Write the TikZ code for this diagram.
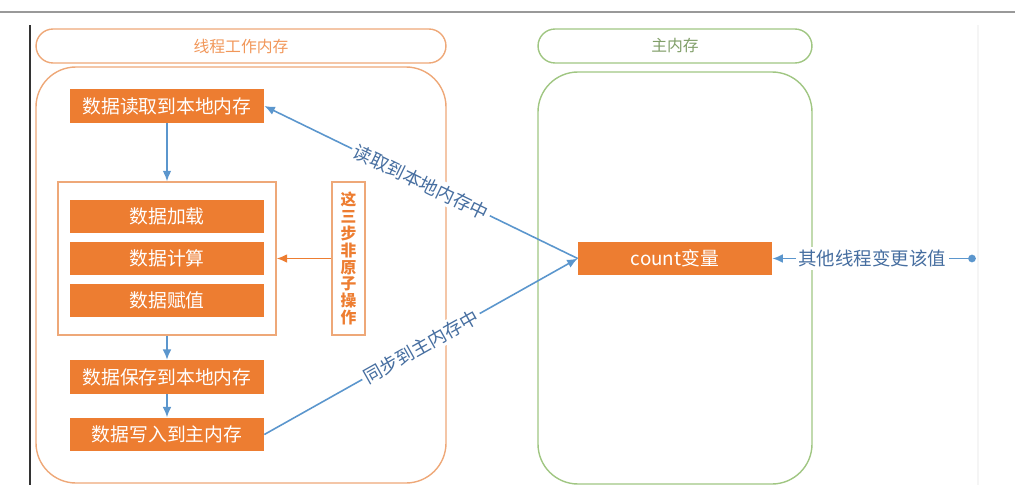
\documentclass[tikz,border=0pt]{standalone}
\usepackage{fontspec}
\setmainfont{Noto Sans CJK SC}
\usepackage{tikz}
\usetikzlibrary{arrows.meta}
\definecolor{figorange}{RGB}{237,125,49}
\definecolor{figpale}{RGB}{238,168,120}
\definecolor{figgreen}{RGB}{160,198,130}
\definecolor{figblue}{RGB}{91,150,205}
\definecolor{figtext}{RGB}{70,110,160}
\tikzset{
  box/.style  ={fill=figorange, text=white, font=\fontsize{10.7}{12}\selectfont, inner sep=0pt, minimum width=3.88cm, minimum height=0.67cm},
  grp/.style  ={draw=figpale, line width=0.8pt},
  grn/.style  ={draw=figgreen, line width=0.8pt},
  pill/.style ={rounded corners=0.34cm, minimum height=0.68cm, inner sep=0pt, font=\fontsize{9}{10}\selectfont},
  lab/.style  ={font=\fontsize{10.5}{12}\selectfont, text=figtext, fill=white, inner sep=1.5pt},
  ptr/.style  ={draw=figblue, line width=0.9pt, -{Latex[length=6pt,width=5pt]}},
  optr/.style ={draw=figorange, line width=0.8pt, -{Latex[length=6pt,width=5pt]}},
}
\begin{document}
\begin{tikzpicture}[x=0.02cm, y=-0.02cm]
  \useasboundingbox (0,0) rectangle (1015,497);
  \draw[black!40, line width=0.8pt] (0,12) -- (1015,12);
  \draw[black!80, line width=1pt] (30,25) -- (30,485);
  \draw[black!4, line width=0.6pt] (978,25) -- (978,485);

  \node[pill, grp, minimum width=8.2cm, text=figorange!80!white] (thead) at (241,46) {线程工作内存};
  \draw[grp, rounded corners=0.8cm] (36,67) rectangle (446,483);
  \node[pill, grn, minimum width=5.48cm, text=figgreen!80!black] (mhead) at (675,46) {主内存};
  \draw[grn, rounded corners=0.8cm] (538,72) rectangle (812,484);

  \node[box] (read) at (167,106) {数据读取到本地内存};
  \node[grp, minimum width=4.36cm, minimum height=3.06cm] (grp) at (167,258.5) {};
  \node[box] (load) at (167,216.5) {数据加载};
  \node[box] (calc) at (167,258.5) {数据计算};
  \node[box] (assign) at (167,300.5) {数据赋值};
  \node[grp, minimum width=0.66cm, minimum height=3.06cm, inner sep=0pt, align=center, text=figorange,
        font=\fontsize{9}{9.6}\selectfont\bfseries] (note) at (348.5,258.5) {这\\三\\步\\非\\原\\子\\操\\作};
  \node[box] (save) at (167,377) {数据保存到本地内存};
  \node[box] (write) at (167,434.5) {数据写入到主内存};
  \node[box] (count) at (675,258.5) {count变量};
  \coordinate (src) at (972,258.5);

  \draw[ptr] (read) -- (grp);
  \draw[ptr] (grp) -- (save);
  \draw[ptr] (save) -- (write);
  \draw[optr] (note) -- (grp);
  \draw[ptr] (count.west) -- node[lab, sloped] {读取到本地内存中} (read.east);
  \draw[ptr] (write.east) -- node[lab, sloped] {同步到主内存中} (count.west);
  \draw[ptr] (src) -- node[lab] {其他线程变更该值} (count.east);
  \fill[figblue] (src) circle (2.2pt);
\end{tikzpicture}
\end{document}
